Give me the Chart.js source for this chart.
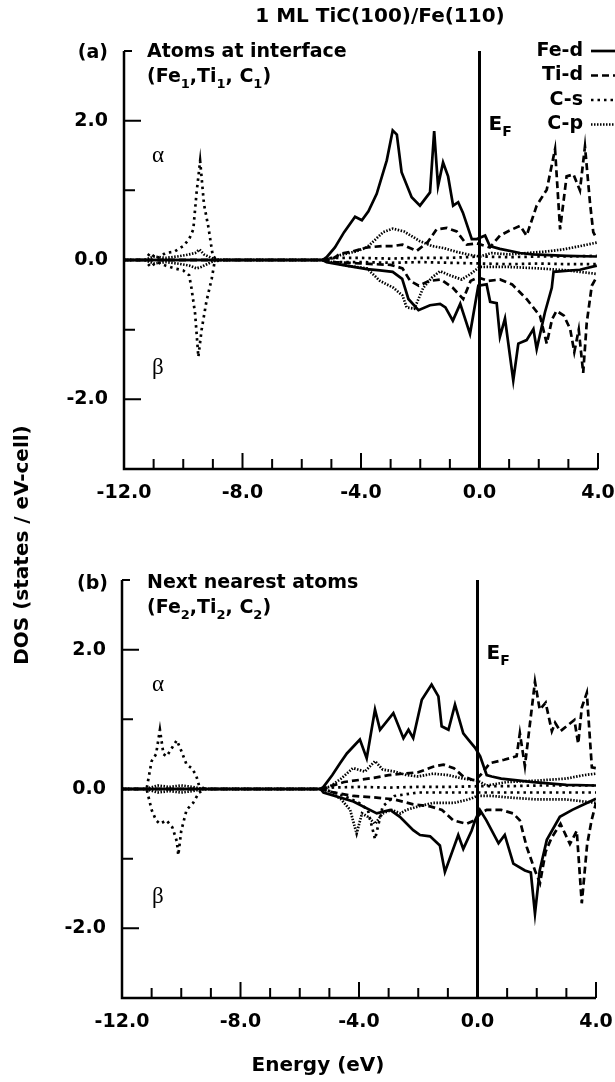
<!DOCTYPE html>
<html>
<head>
<meta charset="utf-8">
<title>1 ML TiC(100)/Fe(110) DOS</title>
<script src="https://cdn.jsdelivr.net/npm/chart.js@4.4.0/dist/chart.umd.min.js"></script>
<style>
  html, body { margin:0; padding:0; background:#fff; }
  #wrap { position:relative; width:615px; height:1082px; }
  canvas { position:absolute; left:0; top:0; }
</style>
</head>
<body>
<div id="wrap">
  <canvas id="panelA" width="615" height="1082"></canvas>
  <canvas id="panelB" width="615" height="1082"></canvas>
</div>
<script>
// axes
const xMin = -12, xMax = 4;
const yMin = -3, yMax = 3;
const xTicks = [-12,-11,-10,-9,-8,-7,-6,-5,-4,-3,-2,-1,0,1,2,3,4];
const xLabels = [-12,-8,-4,0,4];
const yTicks = [-3,-2,-1,0,1,2,3];
const yLabels = [-2,0,2];
const fermiLevel = 0;
const seriesNames = ['Fe-d','Ti-d','C-s','C-p'];

// ---- panel (a): atoms at interface ----
const feUpA_E = [-12,-5.3,-5.16,-4.88,-4.57,-4.2,-3.97,-3.75,-3.47,-3.13,-2.93,-2.79,-2.63,-2.29,-2.01,-1.67,-1.53,-1.4,-1.23,-1.06,-0.89,-0.72,-0.56,-0.26,-0.09,0.19,0.35,0.69,1.37,1.8,2.94,3.96];
const feUpA   = [0,0,0.04,0.18,0.40,0.62,0.57,0.70,0.95,1.43,1.86,1.80,1.26,0.90,0.78,0.97,1.85,1.06,1.40,1.20,0.78,0.83,0.68,0.30,0.30,0.35,0.20,0.16,0.10,0.08,0.06,0.05];
const feDnA_E = [-12,-5.3,-5.16,-4.5,-3.8,-3.36,-2.93,-2.61,-2.4,-2.06,-1.67,-1.33,-1.15,-0.9,-0.65,-0.32,-0.04,0.24,0.36,0.58,0.69,0.86,1.14,1.31,1.59,1.82,1.93,2.21,2.44,2.5,3.39,3.96];
const feDnA   = [0,0,-0.03,-0.08,-0.13,-0.15,-0.17,-0.27,-0.56,-0.72,-0.65,-0.63,-0.68,-0.87,-0.63,-1.06,-0.37,-0.35,-0.60,-0.62,-1.10,-0.84,-1.73,-1.20,-1.15,-0.99,-1.28,-0.75,-0.40,-0.17,-0.14,-0.08];
const tiUpA_E = [-12,-5.3,-4.9,-4.71,-4.3,-3.81,-3.3,-2.93,-2.6,-2.12,-1.74,-1.45,-1.1,-0.77,-0.43,-0.09,0.35,0.69,1.0,1.37,1.59,1.93,2.27,2.55,2.72,2.94,3.17,3.39,3.56,3.73,3.84,3.96];
const tiUpA   = [0,0,0.03,0.09,0.12,0.18,0.20,0.20,0.22,0.13,0.26,0.44,0.46,0.41,0.22,0.24,0.18,0.35,0.42,0.49,0.35,0.78,1.01,1.59,0.44,1.20,1.23,1.00,1.63,0.82,0.40,0.30];
const tiDnA_E = [-12,-5.3,-4.9,-4.0,-3.0,-2.6,-2.34,-2.05,-1.7,-1.3,-0.9,-0.55,-0.3,-0.05,0.3,0.69,1.1,1.59,1.85,2.04,2.27,2.45,2.6,2.85,3.06,3.2,3.35,3.5,3.62,3.79,3.96];
const tiDnA   = [0,0,-0.03,-0.05,-0.07,-0.12,-0.30,-0.37,-0.30,-0.28,-0.40,-0.56,-0.30,-0.25,-0.30,-0.28,-0.35,-0.56,-0.70,-0.80,-1.20,-0.85,-0.73,-0.80,-0.99,-1.32,-1.00,-1.62,-0.90,-0.37,-0.24];
const csUpA_E = [-12,-11.3,-11.12,-10.9,-10.6,-10.3,-10.0,-9.8,-9.66,-9.55,-9.43,-9.3,-9.15,-9.0,-8.8,-5.3,-5.0,-4.0,-3.0,-2.0,-1.0,0,1.0,2.0,3.0,3.96];
const csUpA   = [0,0,0.10,0.02,0.10,0.12,0.20,0.30,0.44,0.97,1.42,0.80,0.47,0.05,0,0,0.03,0.03,0.02,0.03,0.03,0.05,0.04,0.05,0.05,0.06];
const csDnA_E = [-12,-11.3,-11.1,-10.9,-10.6,-10.3,-10.0,-9.8,-9.72,-9.6,-9.55,-9.49,-9.38,-9.22,-9.04,-8.95,-8.8,-5.3,-5.0,-4.0,-3.0,-2.0,-1.0,0,1.0,2.0,3.0,3.96];
const csDnA   = [0,0,-0.10,-0.03,-0.08,-0.12,-0.15,-0.22,-0.41,-0.77,-1.05,-1.39,-1.00,-0.60,-0.27,-0.05,0,0,-0.03,-0.03,-0.04,-0.03,-0.04,-0.05,-0.06,-0.05,-0.06,-0.06];
const cpUpA_E = [-12,-11.3,-11.0,-10.6,-10.2,-9.8,-9.6,-9.45,-9.3,-9.0,-8.8,-5.3,-5.0,-4.7,-4.2,-3.81,-3.5,-3.25,-2.93,-2.55,-2.2,-2.01,-1.6,-1.2,-0.8,-0.4,0,0.4,1.0,1.6,2.2,2.8,3.4,3.96];
const cpUpA   = [0,0,0.05,0.03,0.05,0.08,0.10,0.15,0.08,0.02,0,0,0.02,0.07,0.12,0.18,0.30,0.40,0.45,0.41,0.32,0.27,0.20,0.17,0.12,0.08,0.05,0.10,0.08,0.10,0.12,0.15,0.20,0.25];
const cpDnA_E = [-12,-11.3,-11.0,-10.6,-10.2,-9.8,-9.55,-9.4,-9.2,-9.0,-8.8,-5.3,-5.0,-4.5,-3.8,-3.36,-2.9,-2.6,-2.46,-2.2,-1.9,-1.6,-1.33,-1.0,-0.6,-0.3,0,0.5,1.0,2.0,3.0,3.96];
const cpDnA   = [0,0,-0.05,-0.03,-0.05,-0.08,-0.12,-0.10,-0.06,-0.02,0,0,-0.03,-0.08,-0.12,-0.30,-0.40,-0.51,-0.68,-0.70,-0.40,-0.25,-0.16,-0.22,-0.28,-0.20,-0.10,-0.10,-0.10,-0.12,-0.15,-0.20];

// ---- panel (b): next nearest atoms ----
const feUpB_E = [-12,-5.3,-5.2,-4.9,-4.64,-4.41,-4.19,-3.97,-3.74,-3.46,-3.29,-2.84,-2.5,-2.33,-2.17,-1.88,-1.55,-1.32,-1.21,-0.98,-0.76,-0.48,-0.31,-0.08,0.09,0.31,0.48,0.8,1.88,3.0,4.0];
const feUpB   = [0,0,0.03,0.20,0.37,0.51,0.61,0.71,0.44,1.14,0.85,1.09,0.73,0.85,0.73,1.28,1.50,1.33,0.90,0.85,1.21,0.80,0.71,0.59,0.47,0.20,0.18,0.15,0.10,0.06,0.05];
const feDnB_E = [-12,-5.3,-5.2,-4.19,-3.4,-2.95,-2.62,-2.17,-1.94,-1.6,-1.27,-1.1,-0.65,-0.48,-0.2,-0.08,0.08,0.3,0.71,0.92,1.21,1.6,1.8,1.94,2.1,2.34,2.78,3.2,3.6,4.0];
const feDnB   = [0,0,-0.05,-0.18,-0.35,-0.30,-0.40,-0.59,-0.66,-0.68,-0.81,-1.19,-0.66,-0.86,-0.60,-0.45,-0.30,-0.45,-0.78,-0.66,-1.07,-1.17,-1.20,-1.79,-1.17,-0.73,-0.40,-0.30,-0.22,-0.14];
const tiUpB_E = [-12,-5.3,-4.97,-4.5,-4.0,-3.5,-3.0,-2.5,-2.0,-1.5,-1.15,-0.8,-0.48,-0.1,0.1,0.42,0.9,1.32,1.43,1.6,1.94,2.1,2.3,2.51,2.62,2.8,3.0,3.27,3.4,3.52,3.69,3.86,4.0];
const tiUpB   = [0,0,0.04,0.10,0.13,0.16,0.20,0.22,0.24,0.32,0.35,0.30,0.18,0.12,0.20,0.37,0.42,0.47,0.80,0.33,1.54,1.14,1.24,0.83,0.95,0.83,0.90,0.99,0.65,1.17,1.38,0.31,0.30];
const tiDnB_E = [-12,-5.3,-4.97,-4.19,-3.5,-2.8,-2.17,-1.6,-1.2,-0.82,-0.37,-0.1,0.1,0.31,0.8,1.2,1.43,1.66,1.94,2.11,2.3,2.5,2.8,3.12,3.35,3.52,3.7,3.85,4.0];
const tiDnB   = [0,0,-0.04,-0.10,-0.12,-0.15,-0.22,-0.25,-0.30,-0.45,-0.50,-0.45,-0.35,-0.30,-0.30,-0.35,-0.45,-0.83,-1.17,-1.35,-0.90,-0.70,-0.50,-0.79,-0.60,-1.64,-0.80,-0.45,-0.20];
const csUpB_E = [-12,-11.4,-11.17,-11.0,-10.85,-10.72,-10.6,-10.49,-10.3,-10.15,-10.0,-9.82,-9.65,-9.5,-9.4,-9.2,-5.3,-5.0,-4.0,-3.0,-2.0,-1.0,0,1.0,2.0,3.0,4.0];
const csUpB   = [0,0,0,0.40,0.50,0.85,0.50,0.47,0.60,0.70,0.55,0.35,0.30,0.20,0.05,0,0,0.02,0.03,0.02,0.03,0.03,0.04,0.04,0.05,0.05,0.05];
const csDnB_E = [-12,-11.4,-11.17,-11.0,-10.85,-10.72,-10.5,-10.3,-10.15,-10.1,-10.0,-9.82,-9.6,-9.4,-9.2,-5.3,-5.0,-4.5,-4.0,-3.7,-3.46,-3.2,-2.8,-2.0,-1.0,0,1.0,2.0,3.0,4.0];
const csDnB   = [0,0,0,-0.30,-0.45,-0.50,-0.45,-0.55,-0.75,-0.95,-0.60,-0.30,-0.20,-0.05,0,0,-0.03,-0.10,-0.20,-0.30,-0.72,-0.25,-0.10,-0.05,-0.05,-0.05,-0.05,-0.05,-0.05,-0.05];
const cpUpB_E = [-12,-11.2,-10.8,-10.4,-10.0,-9.6,-9.3,-5.3,-5.0,-4.6,-4.2,-3.8,-3.46,-3.2,-2.8,-2.4,-2.0,-1.5,-1.0,-0.5,0,0.3,1.0,2.0,3.0,3.6,4.0];
const cpUpB   = [0,0,0.05,0.03,0.05,0.03,0,0,0.03,0.15,0.30,0.25,0.40,0.28,0.25,0.20,0.18,0.22,0.20,0.15,0.12,0.05,0.10,0.12,0.15,0.20,0.22];
const cpDnB_E = [-12,-11.2,-10.8,-10.4,-10.0,-9.6,-9.3,-5.3,-5.0,-4.6,-4.3,-4.08,-3.9,-3.7,-3.46,-3.2,-2.9,-2.6,-2.4,-2.0,-1.5,-0.8,-0.3,0,0.5,1.0,2.0,3.0,4.0];
const cpDnB   = [0,0,-0.05,-0.03,-0.05,-0.03,0,0,-0.03,-0.15,-0.30,-0.64,-0.35,-0.40,-0.50,-0.35,-0.30,-0.35,-0.30,-0.25,-0.20,-0.20,-0.15,-0.10,-0.10,-0.12,-0.15,-0.15,-0.20];

const FONT = "'DejaVu Sans', sans-serif";
const SERIF = "'Liberation Serif', 'DejaVu Serif', serif";

const styles = {
  'Fe-d': { dash: [], width: 2.7 },
  'Ti-d': { dash: [7, 4], width: 2.7 },
  'C-s':  { dash: [2.5, 4], width: 2.7 },
  'C-p':  { dash: [1.5, 1.5], width: 2.7 }
};

function pts(xs, ys){
  return xs.map((x, i) => ({ x: x, y: ys[i] }));
}

function ds(label, xs, ys){
  const s = styles[label];
  return {
    label: label, data: pts(xs, ys),
    borderColor: '#000', borderWidth: s.width, borderDash: s.dash,
    borderJoinStyle: 'miter', pointRadius: 0, tension: 0, fill: false
  };
}

function fermiLine(){
  return {
    label: 'EF', data: pts([fermiLevel, fermiLevel], [yMin, yMax]),
    borderColor: '#000', borderWidth: 3, pointRadius: 0, fill: false
  };
}

function drawAxes(chart){
  const { ctx, chartArea: a, scales: { x, y } } = chart;
  ctx.save();
  ctx.strokeStyle = '#000';
  ctx.lineWidth = 2.5;
  ctx.beginPath();
  ctx.moveTo(a.left, a.top);
  ctx.lineTo(a.left, a.bottom);
  ctx.lineTo(a.right, a.bottom);
  ctx.stroke();
  ctx.lineWidth = 2;
  ctx.beginPath();
  ctx.moveTo(a.left, a.top);
  ctx.lineTo(a.left + 8, a.top);
  yTicks.forEach(v => {
    if (v === yMin || v === yMax) return;
    const py = y.getPixelForValue(v);
    const len = v % 2 === 0 ? 17 : 11;
    ctx.moveTo(a.left, py);
    ctx.lineTo(a.left + len, py);
  });
  xTicks.forEach(v => {
    if (v === xMin) return;
    const px = x.getPixelForValue(v);
    const len = v % 4 === 0 ? 16 : 10;
    ctx.moveTo(px, a.bottom);
    ctx.lineTo(px, a.bottom - len);
  });
  ctx.stroke();
  ctx.restore();
}

// text with subscripts: runs = [[text, isSub], ...]
function drawRuns(ctx, x, y, runs, size){
  runs.forEach(r => {
    const sub = r[1];
    ctx.font = 'bold ' + (sub ? Math.round(size * 0.68) : size) + 'px ' + FONT;
    ctx.fillText(r[0], x, sub ? y + size * 0.3 : y);
    x += ctx.measureText(r[0]).width;
  });
}

function drawPanelText(chart, tag, line1, line2, base){
  const { ctx, scales: { x, y } } = chart;
  ctx.save();
  ctx.fillStyle = '#000';
  ctx.textBaseline = 'alphabetic';
  ctx.font = 'bold 19px ' + FONT;
  ctx.textAlign = 'right';
  ctx.fillText(tag, 108, base + 1);
  ctx.textAlign = 'left';
  ctx.fillText(line1, 147, base);
  drawRuns(ctx, 147, base + 25, line2, 19);
  // spin labels
  ctx.font = '23px ' + SERIF;
  ctx.textBaseline = 'middle';
  ctx.fillText('\u03b1', 152, y.getPixelForValue(1.5));
  ctx.fillText('\u03b2', 152, y.getPixelForValue(-1.55));
  // Fermi level label
  ctx.textBaseline = 'alphabetic';
  const ex = x.getPixelForValue(fermiLevel) + 9;
  const ey = y.getPixelForValue(1.86);
  drawRuns(ctx, ex, ey, [['E', false], ['F', true]], 20);
  ctx.restore();
}

function scaleOpts(leftW){
  const tickFont = { family: FONT, size: 19, weight: 'bold' };
  return {
    x: {
      type: 'linear', min: xMin, max: xMax,
      afterBuildTicks: s => { s.ticks = xTicks.map(v => ({ value: v })); },
      afterFit: s => { s.height = 72; s.paddingLeft = 0; s.paddingRight = 0; },
      grid: { display: false, drawTicks: false }, border: { display: false },
      ticks: {
        autoSkip: false, maxRotation: 0, padding: 13, color: '#000', font: tickFont,
        callback: v => xLabels.includes(v) ? v.toFixed(1) : ''
      }
    },
    y: {
      type: 'linear', min: yMin, max: yMax,
      afterBuildTicks: s => { s.ticks = yTicks.map(v => ({ value: v })); },
      afterFit: s => { s.width = leftW; s.paddingTop = 0; s.paddingBottom = 0; },
      grid: { display: false, drawTicks: false }, border: { display: false },
      ticks: {
        padding: 16, color: '#000', font: tickFont,
        callback: v => yLabels.includes(v) ? v.toFixed(1) : ''
      }
    }
  };
}

const baseOpts = (padding, leftW) => ({
  responsive: false, animation: false, devicePixelRatio: 1, events: [],
  layout: { padding: padding },
  plugins: { legend: { display: false }, tooltip: { enabled: false } },
  scales: scaleOpts(leftW)
});

const panelAPlugin = {
  id: 'panelA',
  afterDraw(chart){
    drawAxes(chart);
    drawPanelText(chart, '(a)', 'Atoms at interface',
      [['(Fe', false], ['1', true], [',Ti', false], ['1', true], [', C', false], ['1', true], [')', false]], 57);
    const ctx = chart.ctx;
    ctx.save();
    ctx.fillStyle = '#000';
    ctx.font = 'bold 20px ' + FONT;
    ctx.textAlign = 'center';
    ctx.fillText('1 ML TiC(100)/Fe(110)', 380, 22);
    // legend
    ctx.font = 'bold 19px ' + FONT;
    ctx.textAlign = 'right';
    ctx.textBaseline = 'middle';
    seriesNames.forEach((name, i) => {
      const ly = 51 + i * 24.5;
      ctx.fillText(name, 583, ly);
      ctx.strokeStyle = '#000';
      ctx.lineWidth = styles[name].width;
      ctx.setLineDash(styles[name].dash);
      ctx.beginPath();
      ctx.moveTo(591, ly);
      ctx.lineTo(615, ly);
      ctx.stroke();
    });
    ctx.restore();
  }
};

const panelBPlugin = {
  id: 'panelB',
  afterDraw(chart){
    drawAxes(chart);
    drawPanelText(chart, '(b)', 'Next nearest atoms',
      [['(Fe', false], ['2', true], [',Ti', false], ['2', true], [', C', false], ['2', true], [')', false]], 588);
    const ctx = chart.ctx;
    ctx.save();
    ctx.fillStyle = '#000';
    ctx.font = 'bold 20px ' + FONT;
    ctx.textAlign = 'center';
    ctx.textBaseline = 'middle';
    ctx.fillText('Energy (eV)', 318, 1066);
    ctx.translate(23, 545);
    ctx.rotate(-Math.PI / 2);
    ctx.fillText('DOS (states / eV-cell)', 0, 0);
    ctx.restore();
  }
};

new Chart(document.getElementById('panelA'), {
  type: 'line',
  data: {
    datasets: [
      ds('C-p', cpUpA_E, cpUpA), ds('C-p', cpDnA_E, cpDnA),
      ds('C-s', csUpA_E, csUpA), ds('C-s', csDnA_E, csDnA),
      ds('Ti-d', tiUpA_E, tiUpA), ds('Ti-d', tiDnA_E, tiDnA),
      ds('Fe-d', feUpA_E, feUpA), ds('Fe-d', feDnA_E, feDnA),
      fermiLine()
    ]
  },
  options: baseOpts({ top: 51, bottom: 1082 - 469 - 72, left: 0, right: 17 }, 124),
  plugins: [panelAPlugin]
});

new Chart(document.getElementById('panelB'), {
  type: 'line',
  data: {
    datasets: [
      ds('C-p', cpUpB_E, cpUpB), ds('C-p', cpDnB_E, cpDnB),
      ds('C-s', csUpB_E, csUpB), ds('C-s', csDnB_E, csDnB),
      ds('Ti-d', tiUpB_E, tiUpB), ds('Ti-d', tiDnB_E, tiDnB),
      ds('Fe-d', feUpB_E, feUpB), ds('Fe-d', feDnB_E, feDnB),
      fermiLine()
    ]
  },
  options: baseOpts({ top: 580, bottom: 1082 - 998 - 72, left: 0, right: 19 }, 122),
  plugins: [panelBPlugin]
});
</script>
</body>
</html>
